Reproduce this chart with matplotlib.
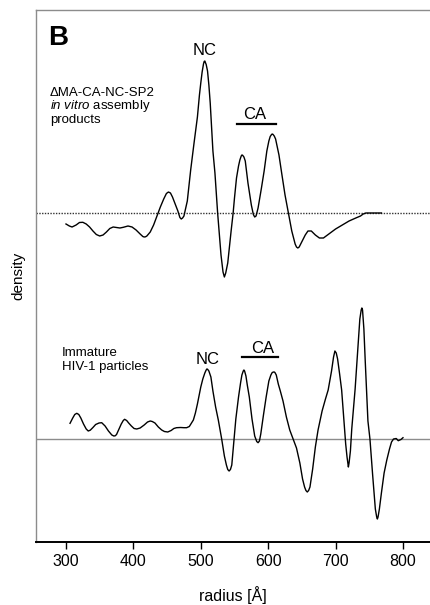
import matplotlib
matplotlib.use("Agg")
import matplotlib.pyplot as plt

plt.rcParams["font.family"] = ["Liberation Sans", "DejaVu Sans"]
plt.rcParams["mathtext.fontset"] = "custom"
plt.rcParams["mathtext.it"] = "Liberation Sans:italic"
plt.rcParams["mathtext.rm"] = "Liberation Sans"

# upper profile: dMA-CA-NC-SP2 in vitro assembly products (radius in A, density arb.)
r_upper = [300, 305, 309, 315, 320, 325, 330, 335, 340, 345, 350, 355, 360, 365,
           370, 375, 380, 385, 392, 398, 404, 410, 414, 416, 418, 420, 425, 430,
           435, 440, 445, 449, 452, 455, 458, 462, 466, 469, 471, 473, 475, 480,
           485, 490, 495, 498, 500, 502, 504, 505, 506, 508, 510, 512, 514, 518,
           521, 525, 530, 533, 535, 537, 540, 545, 548, 550, 553, 556, 558, 560,
           561, 562, 564, 566, 570, 575, 578, 580, 582, 585, 590, 594, 598, 601,
           603, 605, 606, 607, 609, 611, 616, 620, 625, 630, 635, 640, 642, 644,
           646, 649, 655, 659, 664, 670, 676, 682, 690, 700, 710, 720, 730, 737,
           741, 745, 755, 768]
d_upper = [-11, -13, -14, -12, -9.5, -9.3, -11, -14, -18, -21.5, -23, -22, -19, -15.5,
           -14, -14.5, -15, -14.3, -13, -14, -17, -21, -23.5, -24, -23.8, -23, -19, -12,
           -3, 6, 14, 19.5, 21, 20, 16, 9, 2, -4.5, -6, -5, -3, 12,
           43, 70, 96, 118, 130, 141, 149, 151.5, 152, 148.5, 142, 128, 110, 62,
           40, 0, -42, -59, -64, -60, -50, -18, 0, 15, 35, 47, 53, 57,
           58, 57.8, 56, 52, 30, 8, -1.5, -4, -3, 5, 25, 42, 62, 72,
           76.5, 78.5, 79, 78.7, 77, 74, 58, 40, 18, 0, -18, -31, -34, -35,
           -34, -30, -22, -18, -18, -22, -25, -25, -21, -16, -12, -8, -5, -3,
           -1, 0, 0, 0]

# lower profile: immature HIV-1 particles
r_lower = [306, 310, 313, 316, 319, 322, 326, 330, 333, 336, 340, 344, 349, 353,
           358, 363, 368, 371, 373, 375, 378, 382, 385, 387, 390, 393, 397, 401,
           405, 410, 416, 421, 425, 428, 432, 437, 442, 446, 451, 456, 460, 464,
           470, 475, 479, 483, 486, 489, 492, 495, 500, 503, 506, 508, 509, 510,
           512, 515, 518, 522, 526, 531, 535, 538, 540, 542, 544, 546, 549, 552,
           556, 559, 561, 563, 564, 565, 567, 569, 572, 576, 580, 583, 585, 587,
           589, 593, 597, 601, 604, 606, 608, 609, 610, 612, 615, 618, 622, 627,
           632, 637, 642, 647, 651, 654, 656, 658, 660, 662, 666, 670, 674, 680,
           685, 689, 694, 697, 699, 701, 703, 706, 709, 712, 715, 717, 719, 720,
           722, 724, 729, 734, 736, 738, 739, 740, 742, 744, 746, 748, 751, 755,
           759, 761, 762, 763, 765, 768, 772, 776, 780, 783, 786, 790, 793, 797,
           800]
d_lower = [15.7, 21, 24.5, 25.7, 24.5, 21, 15, 10, 8, 8.8, 11.5, 14.5, 16, 16.3,
           13, 8, 4, 3, 3.2, 4.5, 9, 15, 18.5, 19.7, 18.5, 16, 13, 10.5,
           10, 11, 14, 17, 18, 17.5, 16, 12, 9, 7.5, 7, 8.5, 10.5, 11.3,
           11.5, 11.3, 11.3, 12.5, 15.7, 19, 26, 35, 52, 60, 66, 69, 70, 69.8,
           68, 62, 48, 32, 19, 0, -17, -26, -30.5, -32, -30.5, -26, -3, 20,
           42, 56, 64, 68, 69, 68, 63, 54, 42, 20, 3, -2.5, -3.7, -2,
           5, 24, 42, 58, 64, 66.5, 67, 67, 66.5, 64, 55, 48, 38, 22,
           9, 0, -9, -24, -40, -48, -51.5, -53, -51.5, -48, -30, -8, 9, 28,
           40, 49, 68, 82, 88, 86, 80, 65, 49, 22, -5, -18, -28, -24,
           -12, 10, 50, 100, 120, 129, 131, 129, 110, 78, 49, 18, 0, -36,
           -70, -78, -80, -78, -70, -54, -34, -21, -10, -3, 0, 0.5, -1.7, -0.5,
           1.3]

upper_base = 329
lower_base = 103
x_ticks = [300, 400, 500, 600, 700, 800]

fig = plt.figure(figsize=(4.3, 6.05), dpi=100)
ax = fig.add_axes([36 / 430, 63 / 605, 394 / 430, 532 / 605])

ax.axhline(upper_base, color="#333333", lw=1.0, ls=(0, (1, 1)))
ax.axhline(lower_base, color="#8c8c8c", lw=1.0)
ax.plot(r_upper, [upper_base + v for v in d_upper], color="black", lw=1.0,
        solid_joinstyle="round")
ax.plot(r_lower, [lower_base + v for v in d_lower], color="black", lw=1.0,
        solid_joinstyle="round")

ax.set_xlim(255.5, 840.1)
ax.set_ylim(0, 532)
ax.set_xticks(x_ticks)
ax.set_yticks([])
ax.tick_params(axis="x", direction="out", length=5, width=1, labelsize=11.5, pad=4)
ax.spines["right"].set_visible(False)
for s in ("left", "top"):
    ax.spines[s].set_color("#8c8c8c")
    ax.spines[s].set_linewidth(1.0)
ax.spines["bottom"].set_color("black")
ax.spines["bottom"].set_linewidth(1.4)

ax.set_xlabel("radius [Å]", fontsize=11.5, labelpad=12)
ax.set_ylabel("density", fontsize=11, labelpad=8)

ax.text(288, 504, "B", fontsize=20, fontweight="bold", ha="center", va="center")

ax.text(276.3, 446.3, "\u0394MA-CA-NC-SP2", fontsize=9.5, va="baseline")
ax.text(276.3, 432.5, r"$\mathit{in\ vitro}$ assembly", fontsize=9.5, va="baseline")
ax.text(276.3, 418.7, "products", fontsize=9.5, va="baseline")
ax.text(294.1, 186, "Immature", fontsize=9.5, va="baseline")
ax.text(294.1, 172, "HIV-1 particles", fontsize=9.5, va="baseline")

ax.text(506.2, 487, "NC", fontsize=12, ha="center", va="baseline")
ax.text(580.4, 423, "CA", fontsize=12, ha="center", va="baseline")
ax.plot([553.3, 611.6], [417.7, 417.7], color="black", lw=1.6)
ax.text(509.9, 178, "NC", fontsize=12, ha="center", va="baseline")
ax.text(591.5, 188.7, "CA", fontsize=12, ha="center", va="baseline")
ax.plot([560.7, 615.0], [185.3, 185.3], color="black", lw=1.6)

fig.savefig("out.png", dpi=100)
